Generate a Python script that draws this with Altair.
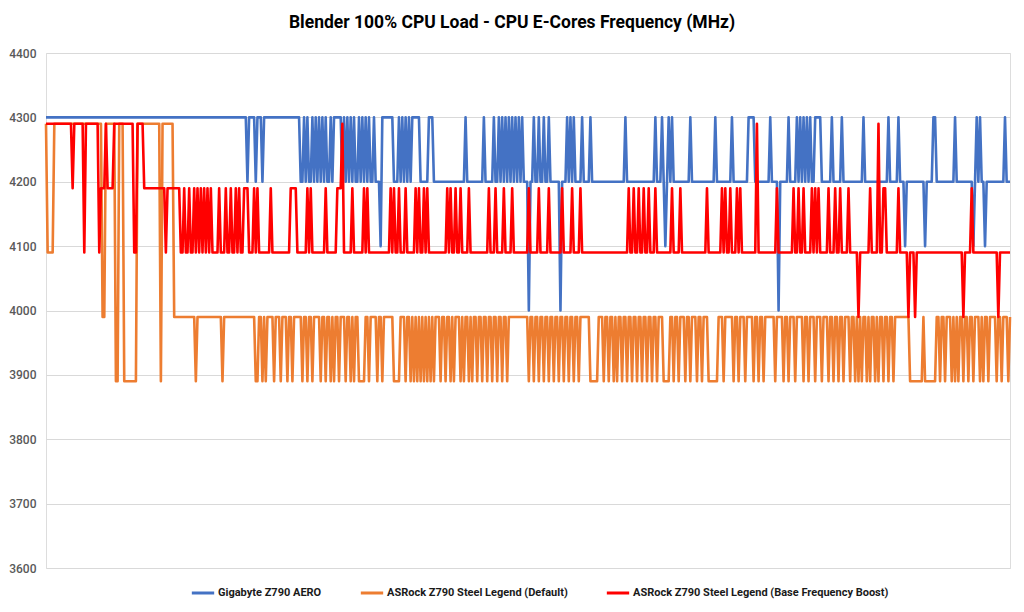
import altair as alt
import pandas as pd

N_SAMPLES = 580
SERIES = [
    "Gigabyte Z790 AERO",
    "ASRock Z790 Steel Legend (Default)",
    "ASRock Z790 Steel Legend (Base Frequency Boost)",
]
COLORS = ["#4472C4", "#ED7D31", "#FF0000"]
Y_TICKS = [3600, 3700, 3800, 3900, 4000, 4100, 4200, 4300, 4400]

# (sample index where the reading changes, new reading in MHz)
GIGA_STEPS = [
    (0, 4300), (121, 4200), (122, 4300), (126, 4200), (127, 4300), (130, 4200), (131, 4300),
    (153, 4200), (155, 4300), (156, 4200), (157, 4300), (158, 4200), (160, 4300), (161, 4200),
    (162, 4300), (163, 4200), (164, 4300), (165, 4200), (166, 4300), (167, 4200), (168, 4300),
    (169, 4200), (171, 4300), (172, 4200), (173, 4300), (178, 4200), (179, 4300), (180, 4200),
    (181, 4300), (182, 4200), (183, 4300), (184, 4200), (185, 4300), (186, 4200), (188, 4300),
    (189, 4200), (190, 4300), (191, 4200), (192, 4300), (193, 4200), (194, 4300), (195, 4200),
    (197, 4300), (198, 4200), (201, 4100), (202, 4300), (209, 4200), (212, 4300), (213, 4200),
    (214, 4300), (215, 4200), (216, 4300), (217, 4200), (218, 4300), (219, 4200), (220, 4300),
    (225, 4200), (230, 4300), (233, 4200), (252, 4300), (253, 4200), (263, 4300), (264, 4200),
    (269, 4300), (270, 4200), (272, 4300), (273, 4200), (274, 4300), (275, 4200), (276, 4300),
    (277, 4200), (278, 4300), (279, 4200), (280, 4300), (281, 4200), (282, 4300), (283, 4200),
    (284, 4300), (285, 4200), (286, 4300), (287, 4200), (290, 4000), (291, 4200), (293, 4300),
    (294, 4200), (296, 4300), (297, 4200), (299, 4300), (300, 4200), (302, 4300), (303, 4200),
    (309, 4000), (310, 4200), (313, 4300), (314, 4200), (315, 4300), (316, 4200), (317, 4300),
    (318, 4200), (322, 4300), (323, 4200), (327, 4300), (328, 4200), (348, 4300), (349, 4200),
    (366, 4300), (367, 4200), (370, 4300), (371, 4200), (372, 4100), (373, 4200), (374, 4300),
    (375, 4200), (376, 4300), (377, 4200), (387, 4300), (388, 4200), (402, 4300), (403, 4200),
    (412, 4300), (413, 4200), (422, 4300), (426, 4200), (435, 4300), (436, 4200), (440, 4000),
    (441, 4200), (446, 4300), (447, 4200), (451, 4300), (452, 4200), (453, 4300), (454, 4200),
    (455, 4300), (456, 4200), (457, 4300), (458, 4200), (459, 4300), (460, 4200), (462, 4300),
    (466, 4200), (472, 4300), (473, 4200), (478, 4300), (479, 4200), (491, 4300), (492, 4200),
    (506, 4300), (507, 4200), (512, 4300), (513, 4200), (516, 4100), (517, 4200), (528, 4100),
    (529, 4200), (533, 4300), (535, 4200), (546, 4300), (547, 4200), (557, 4100), (558, 4200),
    (559, 4300), (560, 4200), (561, 4300), (562, 4200), (564, 4100), (565, 4200), (576, 4300),
    (577, 4200),
]

ASROCK_DEFAULT_STEPS = [
    (0, 4290), (1, 4090), (5, 4290), (34, 3990), (36, 4290), (42, 3890), (44, 4290),
    (47, 3890), (55, 4290), (69, 3890), (70, 4290), (77, 3990), (90, 3890), (91, 3990),
    (106, 3890), (107, 3990), (126, 3890), (128, 3990), (130, 3890), (131, 3990), (132, 3890),
    (133, 3990), (137, 3890), (138, 3990), (141, 3890), (142, 3990), (145, 3890), (146, 3990),
    (148, 3890), (149, 3990), (154, 3890), (155, 3990), (157, 3890), (158, 3990), (160, 3890),
    (161, 3990), (165, 3890), (166, 3990), (168, 3890), (169, 3990), (171, 3890), (172, 3990),
    (173, 3890), (174, 3990), (176, 3890), (177, 3990), (180, 3890), (181, 3990), (183, 3890),
    (184, 3990), (185, 3890), (186, 3990), (188, 3890), (192, 3990), (194, 3890), (195, 3990),
    (199, 3890), (200, 3990), (202, 3890), (203, 3990), (209, 3890), (213, 3990), (216, 3890),
    (217, 3990), (219, 3890), (220, 3990), (221, 3890), (222, 3990), (223, 3890), (224, 3990),
    (225, 3890), (226, 3990), (227, 3890), (228, 3990), (229, 3890), (230, 3990), (231, 3890),
    (232, 3990), (233, 3890), (234, 3990), (237, 3890), (238, 3990), (240, 3890), (241, 3990),
    (243, 3890), (244, 3990), (245, 3890), (246, 3990), (249, 3890), (250, 3990), (251, 3890),
    (252, 3990), (254, 3890), (255, 3990), (256, 3890), (257, 3990), (259, 3890), (260, 3990),
    (262, 3890), (263, 3990), (265, 3890), (266, 3990), (268, 3890), (269, 3990), (271, 3890),
    (272, 3990), (274, 3890), (275, 3990), (277, 3890), (278, 3990), (290, 3890), (291, 3990),
    (293, 3890), (294, 3990), (296, 3890), (297, 3990), (299, 3890), (300, 3990), (302, 3890),
    (303, 3990), (305, 3890), (306, 3990), (308, 3890), (309, 3990), (311, 3890), (312, 3990),
    (314, 3890), (315, 3990), (317, 3890), (318, 3990), (320, 3890), (321, 3990), (327, 3890),
    (332, 3990), (335, 3890), (336, 3990), (338, 3890), (339, 3990), (341, 3890), (342, 3990),
    (343, 3890), (344, 3990), (346, 3890), (347, 3990), (349, 3890), (350, 3990), (352, 3890),
    (353, 3990), (355, 3890), (356, 3990), (358, 3890), (359, 3990), (361, 3890), (362, 3990),
    (364, 3890), (365, 3990), (367, 3890), (368, 3990), (371, 3890), (375, 3990), (377, 3890),
    (378, 3990), (380, 3890), (381, 3990), (384, 3890), (385, 3990), (387, 3890), (388, 3990),
    (391, 3890), (392, 3990), (394, 3890), (395, 3990), (398, 3890), (404, 3990), (407, 3890),
    (408, 3990), (413, 3890), (414, 3990), (416, 3890), (417, 3990), (420, 3890), (421, 3990),
    (425, 3890), (426, 3990), (428, 3890), (429, 3990), (431, 3890), (432, 3990), (438, 3890),
    (439, 3990), (443, 3890), (444, 3990), (446, 3890), (447, 3990), (450, 3890), (451, 3990),
    (455, 3890), (456, 3990), (458, 3890), (459, 3990), (462, 3890), (463, 3990), (466, 3890),
    (467, 3990), (470, 3890), (471, 3990), (473, 3890), (474, 3990), (476, 3890), (477, 3990),
    (479, 3890), (480, 3990), (483, 3890), (484, 3990), (486, 3890), (487, 3990), (488, 3890),
    (489, 3990), (490, 3890), (491, 3990), (493, 3890), (494, 3990), (495, 3890), (496, 3990),
    (498, 3890), (499, 3990), (500, 3890), (501, 3990), (503, 3890), (504, 3990), (506, 3890),
    (507, 3990), (509, 3890), (510, 3990), (519, 3890), (527, 3990), (528, 3890), (535, 3990),
    (537, 3890), (538, 3990), (540, 3890), (541, 3990), (544, 3890), (545, 3990), (546, 3890),
    (547, 3990), (548, 3890), (549, 3990), (551, 3890), (552, 3990), (554, 3890), (555, 3990),
    (557, 3890), (558, 3990), (561, 3890), (562, 3990), (563, 3890), (564, 3990), (566, 3890),
    (567, 3990), (571, 3890), (572, 3990), (574, 3890), (575, 3990), (578, 3890), (579, 3990),
]

ASROCK_BFB_STEPS = [
    (0, 4290), (16, 4190), (17, 4290), (23, 4090), (24, 4290), (32, 4090), (33, 4190),
    (36, 4290), (37, 4190), (41, 4290), (53, 4090), (55, 4290), (59, 4190), (72, 4090),
    (73, 4190), (81, 4090), (83, 4190), (84, 4090), (86, 4190), (87, 4090), (89, 4190),
    (90, 4090), (91, 4190), (92, 4090), (93, 4190), (94, 4090), (95, 4190), (96, 4090),
    (97, 4190), (98, 4090), (99, 4190), (100, 4090), (104, 4190), (105, 4090), (108, 4190),
    (109, 4090), (111, 4190), (112, 4090), (114, 4190), (115, 4090), (116, 4190), (117, 4090),
    (119, 4190), (122, 4090), (125, 4190), (126, 4090), (127, 4190), (128, 4090), (135, 4190),
    (136, 4090), (147, 4190), (151, 4090), (157, 4190), (158, 4090), (159, 4190), (160, 4090),
    (168, 4190), (169, 4090), (175, 4190), (178, 4290), (179, 4090), (184, 4190), (185, 4090),
    (191, 4190), (192, 4090), (193, 4190), (194, 4090), (207, 4190), (208, 4090), (209, 4190),
    (210, 4090), (212, 4190), (213, 4090), (216, 4190), (217, 4090), (222, 4190), (223, 4090),
    (224, 4190), (225, 4090), (227, 4190), (228, 4090), (229, 4190), (230, 4090), (241, 4190),
    (242, 4090), (243, 4190), (244, 4090), (246, 4190), (247, 4090), (249, 4190), (250, 4090),
    (254, 4190), (255, 4090), (266, 4190), (267, 4090), (270, 4190), (271, 4090), (275, 4190),
    (276, 4090), (280, 4190), (281, 4090), (290, 4190), (291, 4090), (296, 4190), (297, 4090),
    (302, 4190), (303, 4090), (310, 4190), (311, 4090), (316, 4190), (317, 4090), (321, 4190),
    (322, 4090), (350, 4190), (351, 4090), (353, 4190), (354, 4090), (356, 4190), (357, 4090),
    (359, 4190), (360, 4090), (362, 4190), (363, 4090), (366, 4190), (367, 4090), (376, 4190),
    (377, 4090), (381, 4190), (382, 4090), (397, 4190), (398, 4090), (406, 4190), (407, 4090),
    (408, 4190), (409, 4090), (411, 4190), (412, 4090), (415, 4190), (416, 4090), (417, 4190),
    (418, 4090), (427, 4290), (428, 4090), (439, 4190), (440, 4090), (449, 4190), (450, 4090),
    (452, 4190), (453, 4090), (455, 4190), (456, 4090), (460, 4190), (461, 4090), (462, 4190),
    (463, 4090), (464, 4190), (465, 4090), (470, 4190), (471, 4090), (474, 4190), (475, 4090),
    (477, 4190), (478, 4090), (482, 4190), (483, 4090), (488, 3990), (489, 4090), (495, 4190),
    (496, 4090), (500, 4290), (501, 4090), (503, 4190), (505, 4090), (512, 4190), (513, 4090),
    (518, 3990), (519, 4090), (522, 3990), (523, 4090), (551, 3990), (552, 4090), (556, 4190),
    (557, 4090), (572, 3990), (573, 4090),
]


def expand(steps, n):
    out = []
    k = 0
    cur = steps[0][1]
    for i in range(n):
        while k < len(steps) and steps[k][0] <= i:
            cur = steps[k][1]
            k += 1
        out.append(cur)
    return out


rows = []
for name, steps in zip(SERIES, [GIGA_STEPS, ASROCK_DEFAULT_STEPS, ASROCK_BFB_STEPS]):
    for i, v in enumerate(expand(steps, N_SAMPLES)):
        rows.append({"sample": i, "mhz": v, "series": name})
df = pd.DataFrame(rows)

FONT = "Roboto"

base = alt.Chart(df).mark_line(strokeWidth=2.6, strokeJoin="round").encode(
    x=alt.X("sample:Q", scale=alt.Scale(domain=[0, N_SAMPLES - 1], nice=False, zero=False), axis=None),
    y=alt.Y(
        "mhz:Q",
        scale=alt.Scale(domain=[3600, 4400], nice=False, zero=False),
        axis=alt.Axis(
            values=Y_TICKS, title=None, domain=False, ticks=False, labelPadding=10,
            labelColor="#595959", labelFont=FONT, labelFontSize=12, labelFontWeight=500,
            gridColor="#d9d9d9", gridWidth=1, format="d",
        ),
    ),
    color=alt.Color(
        "series:N",
        scale=alt.Scale(domain=SERIES, range=COLORS),
        legend=alt.Legend(
            title=None, orient="none", direction="horizontal", legendX=144, legendY=527,
            symbolType="stroke", symbolStrokeWidth=3, symbolSize=500, labelFont=FONT,
            labelFontSize=11, labelFontWeight="bold", labelColor="#1a1a1a", columnPadding=32,
            labelOffset=2, labelLimit=400,
        ),
    ),
)

layers = [base.transform_filter(alt.datum.series == s) for s in SERIES]

chart = alt.layer(*layers).properties(
    width=964,
    height=515,
    autosize=alt.AutoSizeParams(type="none"),
    padding={"left": 46, "top": 53, "right": 14, "bottom": 44},
    title=alt.TitleParams(
        "Blender 100% CPU Load - CPU E-Cores Frequency (MHz)", font=FONT, fontSize=17.5,
        fontWeight="bold", color="#000000", anchor="middle", offset=16, dx=-16,
    ),
).configure_view(stroke=None).configure(background="white")

chart.save("out.html", embed_options={"renderer": "svg", "actions": False})
